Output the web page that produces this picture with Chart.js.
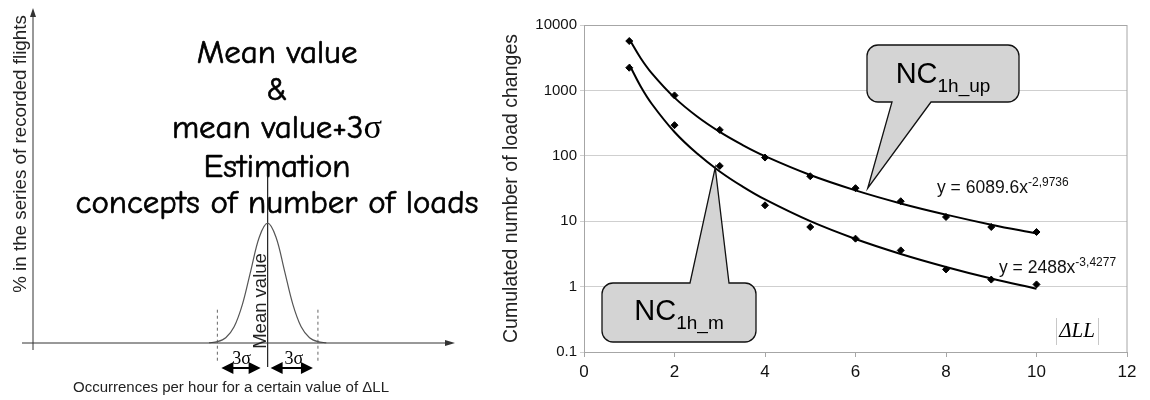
<!DOCTYPE html>
<html><head><meta charset="utf-8">
<script src="https://cdn.jsdelivr.net/npm/chart.js@4.4.1/dist/chart.umd.min.js"></script>
<style>
html,body{margin:0;padding:0;background:#fff;}
#wrap{position:relative;width:1150px;height:400px;overflow:hidden;}
#left{position:absolute;left:0;top:0;width:480px;height:400px;}
#right{position:absolute;left:480px;top:0;width:670px;height:400px;}
</style></head><body>
<div id="wrap">
<div id="left"><canvas id="c1" width="480" height="400"></canvas></div>
<div id="right"><canvas id="c2" width="670" height="400"></canvas></div>
</div>
<script>
// ---------- right chart data ----------
const deltaLL = [1, 2, 3, 4, 5, 6, 7, 8, 9, 10];
const nc1hUp = [5690, 838, 249, 94, 48.7, 32, 20.2, 11.6, 8.15, 6.84];
const nc1hM = [2220, 294, 70, 17.5, 8.15, 5.41, 3.58, 1.83, 1.28, 1.08];
const trendX = [1, 1.25, 1.5, 2, 2.5, 3, 3.5, 4, 5, 6, 7, 8, 9, 10];
const trendUp = [6090, 3136, 1824, 775, 399, 232, 147, 98.7, 50.8, 29.6, 18.7, 12.6, 8.85, 6.47];
const trendM = [2488, 1158, 620, 231, 108, 57.6, 34.0, 21.5, 10.0, 5.35, 3.16, 2.00, 1.33, 0.93];
const yTickValues = [0.1, 1, 10, 100, 1000, 10000];
const yTickLabels = ['0.1', '1', '10', '100', '1000', '10000'];
const xTickStep = 2;
const eqUp = ['y = 6089.6x', '-2,9736'];
const eqM = ['y = 2488x', '-3,4277'];

// ---------- left schematic data ----------
const occX = [10.5, 11, 11.5, 12, 12.5, 13, 13.5, 14, 14.5, 15, 15.5, 16, 16.5, 17, 17.5];
const occPct = [0.08, 0.40, 1.58, 4.87, 11.69, 21.83, 31.77, 36, 31.77, 21.83, 11.69, 4.87, 1.58, 0.40, 0.08];
const meanOcc = 14;
const sigmaLimits = [11, 17];
const titleLines = ['Mean value', '&', 'mean value+3\u03c3', 'Estimation', 'concepts of number of loads'];

const SANS = "'Liberation Sans', Arial, Helvetica, sans-serif";
const SERIF = "'Liberation Serif', 'Times New Roman', serif";
const COMIC = "'Comic Sans MS', 'Comic Neue', 'DejaVu Sans', sans-serif";

// ---------- left chart ----------
const leftPlugin = {
  id: 'leftDecor',
  afterDatasetsDraw(chart) {
    const ctx = chart.ctx, a = chart.chartArea;
    const xs = chart.scales.x, ys = chart.scales.y;
    ctx.save();
    ctx.strokeStyle = '#333'; ctx.fillStyle = '#333'; ctx.lineWidth = 1;
    // y axis with arrow
    ctx.beginPath(); ctx.moveTo(a.left, a.bottom + 7); ctx.lineTo(a.left, a.top + 2); ctx.stroke();
    ctx.beginPath(); ctx.moveTo(a.left, a.top - 2); ctx.lineTo(a.left - 3, a.top + 7); ctx.lineTo(a.left + 3, a.top + 7); ctx.closePath(); ctx.fill();
    // x axis with arrow
    ctx.beginPath(); ctx.moveTo(a.left - 11, a.bottom); ctx.lineTo(a.right - 3, a.bottom); ctx.stroke();
    ctx.beginPath(); ctx.moveTo(a.right + 3, a.bottom); ctx.lineTo(a.right - 7, a.bottom - 3); ctx.lineTo(a.right - 7, a.bottom + 3); ctx.closePath(); ctx.fill();

    // double arrows for 3 sigma
    const ay = ys.getPixelForValue(-7.5);
    const dbl = (x0, x1) => {
      ctx.strokeStyle = '#000'; ctx.fillStyle = '#000'; ctx.lineWidth = 2;
      ctx.beginPath(); ctx.moveTo(x0 + 6, ay); ctx.lineTo(x1 - 6, ay); ctx.stroke();
      ctx.beginPath(); ctx.moveTo(x0, ay); ctx.lineTo(x0 + 12, ay - 6); ctx.lineTo(x0 + 12, ay + 6); ctx.closePath(); ctx.fill();
      ctx.beginPath(); ctx.moveTo(x1, ay); ctx.lineTo(x1 - 12, ay - 6); ctx.lineTo(x1 - 12, ay + 6); ctx.closePath(); ctx.fill();
    };
    dbl(xs.getPixelForValue(sigmaLimits[0]) + 4, xs.getPixelForValue(meanOcc) - 7);
    dbl(xs.getPixelForValue(meanOcc) + 3, xs.getPixelForValue(sigmaLimits[1]) - 5);

    // 3 sigma labels
    ctx.fillStyle = '#000';
    ctx.font = '18px ' + SERIF; ctx.textAlign = 'center'; ctx.textBaseline = 'alphabetic';
    ctx.fillText('3\u03c3', (xs.getPixelForValue(sigmaLimits[0]) + xs.getPixelForValue(meanOcc)) / 2 - 1, ay - 4);
    ctx.fillText('3\u03c3', (xs.getPixelForValue(sigmaLimits[1]) + xs.getPixelForValue(meanOcc)) / 2 + 1, ay - 4);

    // "Mean value" rotated
    ctx.save();
    ctx.translate(xs.getPixelForValue(meanOcc) - 7, 301);
    ctx.rotate(-Math.PI / 2);
    ctx.font = '18.5px ' + SANS; ctx.textAlign = 'center'; ctx.textBaseline = 'middle';
    ctx.fillStyle = '#222';
    ctx.fillText('Mean value', 0, 0);
    ctx.restore();

    // axis titles
    ctx.save();
    ctx.translate(21, 154); ctx.rotate(-Math.PI / 2);
    ctx.font = '18.8px ' + SANS; ctx.textAlign = 'center'; ctx.textBaseline = 'middle'; ctx.fillStyle = '#222';
    ctx.fillText('% in the series of recorded flights', 0, 0);
    ctx.restore();
    ctx.font = '15px ' + SANS; ctx.textAlign = 'center'; ctx.textBaseline = 'middle'; ctx.fillStyle = '#222';
    ctx.fillText('Occurrences per hour for a certain value of \u0394LL', 231, 388);

    // big title (sigma glyph set in serif like the original)
    ctx.fillStyle = '#000'; ctx.strokeStyle = '#000'; ctx.lineWidth = 0.7;
    ctx.textBaseline = 'alphabetic';
    ctx.font = '30px ' + COMIC;
    const w = ctx.measureText(titleLines[4]).width;
    const fs = 30 * 403 / w;
    const fComic = fs.toFixed(1) + 'px ' + COMIC;
    const fSig = (fs * 1.05).toFixed(1) + 'px ' + SERIF;
    const bases = [63, 100, 138, 177, 213];
    const cx = 277;
    titleLines.forEach((t, i) => {
      const parts = t.split(/(\u03c3)/).filter(p => p.length);
      let total = 0;
      const widths = parts.map(p => { ctx.font = p === '\u03c3' ? fSig : fComic; const pw = ctx.measureText(p).width; total += pw; return pw; });
      let x = cx - total / 2;
      ctx.textAlign = 'left';
      parts.forEach((p, j) => {
        ctx.font = p === '\u03c3' ? fSig : fComic;
        ctx.fillText(p, x, bases[i]);
        if (p !== '\u03c3') ctx.strokeText(p, x, bases[i]);
        x += widths[j];
      });
    });
    ctx.restore();
  }
};

new Chart(document.getElementById('c1'), {
  type: 'scatter',
  data: {
    datasets: [
      { data: occX.map((x, i) => ({ x, y: occPct[i] })), showLine: true, borderColor: '#555', borderWidth: 1.2, pointRadius: 0, tension: 0.35, clip: false },
      { data: [{ x: meanOcc, y: 50 }, { x: meanOcc, y: -7.2 }], showLine: true, borderColor: '#222', borderWidth: 1.2, pointRadius: 0, clip: false },
      { data: [{ x: sigmaLimits[0], y: 10 }, { x: sigmaLimits[0], y: -5.8 }], showLine: true, borderColor: '#666', borderWidth: 1, borderDash: [3, 3], pointRadius: 0, clip: false },
      { data: [{ x: sigmaLimits[1], y: 10 }, { x: sigmaLimits[1], y: -5.8 }], showLine: true, borderColor: '#666', borderWidth: 1, borderDash: [3, 3], pointRadius: 0, clip: false }
    ]
  },
  options: {
    responsive: false, animation: false, devicePixelRatio: 1,
    layout: { padding: { left: 33, right: 28, top: 10, bottom: 57 } },
    plugins: { legend: { display: false }, tooltip: { enabled: false } },
    scales: {
      x: { type: 'linear', min: 0, max: 25, display: false },
      y: { type: 'linear', min: 0, max: 100, display: false }
    }
  },
  plugins: [leftPlugin]
});

// ---------- right chart ----------
function drawSupText(ctx, x, y, main, sup, fMain, fSup, raise) {
  ctx.font = fMain; ctx.textAlign = 'left'; ctx.textBaseline = 'alphabetic';
  ctx.fillText(main, x, y);
  const w = ctx.measureText(main).width;
  ctx.font = fSup;
  ctx.fillText(sup, x + w, y - raise);
}

function callout(ctx, box, baseX0, baseX1, tip, onTop) {
  const [x0, y0, x1, y1] = box, r = 11;
  ctx.beginPath();
  ctx.moveTo(x0 + r, y0);
  if (onTop) { ctx.lineTo(baseX0, y0); ctx.lineTo(tip.x, tip.y); ctx.lineTo(baseX1, y0); }
  ctx.arcTo(x1, y0, x1, y0 + r, r);
  ctx.arcTo(x1, y1, x1 - r, y1, r);
  if (!onTop) { ctx.lineTo(baseX1, y1); ctx.lineTo(tip.x, tip.y); ctx.lineTo(baseX0, y1); }
  ctx.arcTo(x0, y1, x0, y1 - r, r);
  ctx.arcTo(x0, y0, x0 + r, y0, r);
  ctx.closePath();
  ctx.fillStyle = '#d4d4d4'; ctx.fill();
  ctx.strokeStyle = '#111'; ctx.lineWidth = 1.3; ctx.stroke();
}

function calloutText(ctx, cx, baseline, main, sub) {
  ctx.fillStyle = '#000';
  ctx.font = '29px ' + SANS;
  const w1 = ctx.measureText(main).width;
  ctx.font = '19px ' + SANS;
  const w2 = ctx.measureText(sub).width;
  const x = cx - (w1 + w2) / 2;
  ctx.textAlign = 'left'; ctx.textBaseline = 'alphabetic';
  ctx.font = '29px ' + SANS; ctx.fillText(main, x, baseline);
  ctx.font = '19px ' + SANS; ctx.fillText(sub, x + w1, baseline + 9);
}

const rightPlugin = {
  id: 'rightDecor',
  beforeDatasetsDraw(chart) {
    const ctx = chart.ctx, a = chart.chartArea;
    ctx.save();
    ctx.strokeStyle = '#a6a6a6'; ctx.lineWidth = 1;
    ctx.strokeRect(a.left + 0.5, a.top + 0.5, a.right - a.left - 0.5, a.bottom - a.top);
    ctx.restore();
  },
  afterDatasetsDraw(chart) {
    const ctx = chart.ctx;
    const xs = chart.scales.x, ys = chart.scales.y;
    ctx.save();
    // callout NC1h_up
    const tipUp = { x: xs.getPixelForValue(6.27), y: ys.getPixelForValue(31.9) };
    callout(ctx, [387, 45, 539, 102], 412, 451, tipUp, false);
    calloutText(ctx, 463, 83, 'NC', '1h_up');
    // callout NC1h_m
    const tipM = { x: xs.getPixelForValue(2.9), y: ys.getPixelForValue(66) };
    callout(ctx, [122, 283, 276, 342], 210, 249, tipM, true);
    calloutText(ctx, 199, 320, 'NC', '1h_m');
    // equations
    ctx.fillStyle = '#111';
    drawSupText(ctx, 457, 193, eqUp[0], eqUp[1], '17.5px ' + SANS, '12px ' + SANS, 7);
    drawSupText(ctx, 519, 273, eqM[0], eqM[1], '17.5px ' + SANS, '12px ' + SANS, 7);
    // delta LL label
    ctx.strokeStyle = '#c8c8c8'; ctx.lineWidth = 1;
    ctx.beginPath(); ctx.moveTo(576.5, 318); ctx.lineTo(576.5, 345); ctx.moveTo(618.5, 318); ctx.lineTo(618.5, 345); ctx.stroke();
    ctx.fillStyle = '#000'; ctx.font = 'italic 21px ' + SERIF; ctx.textAlign = 'center'; ctx.textBaseline = 'middle';
    ctx.fillText('\u0394LL', 597, 331);
    ctx.restore();
  }
};

new Chart(document.getElementById('c2'), {
  type: 'scatter',
  data: {
    datasets: [
      { label: 'trend up', data: trendX.map((x, i) => ({ x, y: trendUp[i] })), showLine: true, borderColor: '#000', borderWidth: 2, pointRadius: 0, tension: 0.4 },
      { label: 'trend m', data: trendX.map((x, i) => ({ x, y: trendM[i] })), showLine: true, borderColor: '#000', borderWidth: 2, pointRadius: 0, tension: 0.4 },
      { label: 'NC1h_up', data: deltaLL.map((x, i) => ({ x, y: nc1hUp[i] })), pointStyle: 'rectRot', pointRadius: 3.5, backgroundColor: '#000', borderColor: '#000', borderWidth: 1 },
      { label: 'NC1h_m', data: deltaLL.map((x, i) => ({ x, y: nc1hM[i] })), pointStyle: 'rectRot', pointRadius: 3.5, backgroundColor: '#000', borderColor: '#000', borderWidth: 1 }
    ]
  },
  options: {
    responsive: false, animation: false, devicePixelRatio: 1,
    layout: { padding: { left: 0, right: 23, top: 25, bottom: 0 } },
    plugins: { legend: { display: false }, tooltip: { enabled: false } },
    scales: {
      x: {
        type: 'linear', min: 0, max: 12,
        ticks: { stepSize: xTickStep, color: '#111', padding: 5, font: { size: 17, family: SANS } },
        grid: { drawOnChartArea: false, tickLength: 5, color: '#a6a6a6' },
        border: { color: '#a6a6a6' },
        afterFit(s) { s.height = 48; }
      },
      y: {
        type: 'logarithmic', min: 0.1, max: 10000,
        afterBuildTicks(s) { s.ticks = yTickValues.map(v => ({ value: v })); },
        ticks: { color: '#111', padding: 3, font: { size: 15, family: SANS }, callback: (v, i) => yTickLabels[i] },
        grid: { color: '#cfcfcf', tickLength: 4 },
        border: { color: '#a6a6a6' },
        title: { display: true, text: 'Cumulated number of load changes', color: '#222', font: { size: 19.5, family: SANS }, padding: { top: 20, bottom: 0 } },
        afterFit(s) { s.width = 104; }
      }
    }
  },
  plugins: [rightPlugin]
});
</script>
</body></html>
